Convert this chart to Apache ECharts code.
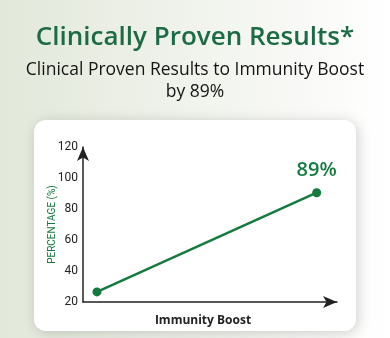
<!DOCTYPE html>
<html>
<head>
<meta charset="utf-8">
<script src="https://cdn.jsdelivr.net/npm/echarts@6/dist/echarts.min.js"></script>
<style>
  html, body { margin: 0; padding: 0; }
  #chart { width: 390px; height: 338px; }
</style>
</head>
<body>
<div id="chart"></div>
<script>
// data
var xPos = [5.5, 92];          // position along the (unlabelled) x axis, 0..100
var yValues = [26.5, 90.5];    // percentage
var peakLabel = '89%';
var yTicks = [20, 40, 60, 80, 100, 120];

var chartDom = document.getElementById('chart');
var myChart = echarts.init(chartDom);

var points = [];
for (var i = 0; i < xPos.length; i++) {
    points.push([xPos[i], yValues[i]]);
}

var green = '#157a3e';

var option = {
    backgroundColor: {
        type: 'linear', x: 0, y: 0, x2: 1, y2: 0,
        colorStops: [
            { offset: 0, color: '#e2e8da' },
            { offset: 0.55, color: '#f2f4ee' },
            { offset: 1, color: '#ffffff' }
        ]
    },
    graphic: [
        {
            type: 'text',
            x: 195, y: 38,
            style: {
                text: 'Clinically Proven Results*',
                align: 'center', verticalAlign: 'middle',
                font: '600 26px "Open Sans"', fill: '#1c6b45'
            }
        },
        {
            type: 'text',
            x: 195, y: 81,
            style: {
                text: 'Clinical Proven Results to Immunity Boost\nby 89%',
                align: 'center', verticalAlign: 'middle', lineHeight: 22,
                font: '500 17.5px "Open Sans"', fill: '#151515'
            }
        },
        {
            type: 'rect',
            z: -1,
            shape: { x: 34, y: 120, width: 322, height: 211, r: 12 },
            style: { fill: '#ffffff', shadowBlur: 14, shadowColor: 'rgba(0,0,0,0.18)', shadowOffsetX: 2, shadowOffsetY: 2 }
        }
    ],
    grid: { left: 83, right: 53, top: 147, bottom: 36 },
    xAxis: {
        type: 'value',
        min: 0,
        max: 100,
        name: 'Immunity Boost',
        nameLocation: 'middle',
        nameGap: 13,
        nameTextStyle: { fontFamily: 'Open Sans', fontWeight: 'bold', fontSize: 12, color: '#222', padding: [0, 14, 0, 0] },
        axisLine: { lineStyle: { color: '#222', width: 1.5 }, symbol: ['none', 'arrow'], symbolSize: [9, 14] },
        axisTick: { show: false },
        axisLabel: { show: false },
        splitLine: { show: false }
    },
    yAxis: {
        type: 'value',
        min: yTicks[0],
        max: yTicks[yTicks.length - 1],
        interval: 20,
        name: 'PERCENTAGE (%)',
        nameLocation: 'middle',
        nameGap: 26,
        nameMoveOverlap: false,
        nameTextStyle: { fontFamily: 'Roboto', fontSize: 10, color: green },
        axisLine: { show: true, lineStyle: { color: '#222', width: 1.5 }, symbol: ['none', 'arrow'], symbolSize: [9, 14] },
        axisTick: { show: false },
        axisLabel: { margin: 5, fontFamily: 'Roboto', fontSize: 12, color: '#222' },
        splitLine: { show: false }
    },
    series: [
        {
            type: 'line',
            data: points,
            symbol: 'circle',
            symbolSize: 9,
            lineStyle: { color: green, width: 2.5 },
            itemStyle: { color: green },
            label: {
                show: true,
                position: 'top',
                distance: 8,
                fontFamily: 'Open Sans',
                fontSize: 20,
                fontWeight: 600,
                color: green,
                formatter: function (p) {
                    return p.dataIndex === points.length - 1 ? peakLabel : '';
                }
            }
        }
    ]
};

option && myChart.setOption(option);
</script>
</body>
</html>
